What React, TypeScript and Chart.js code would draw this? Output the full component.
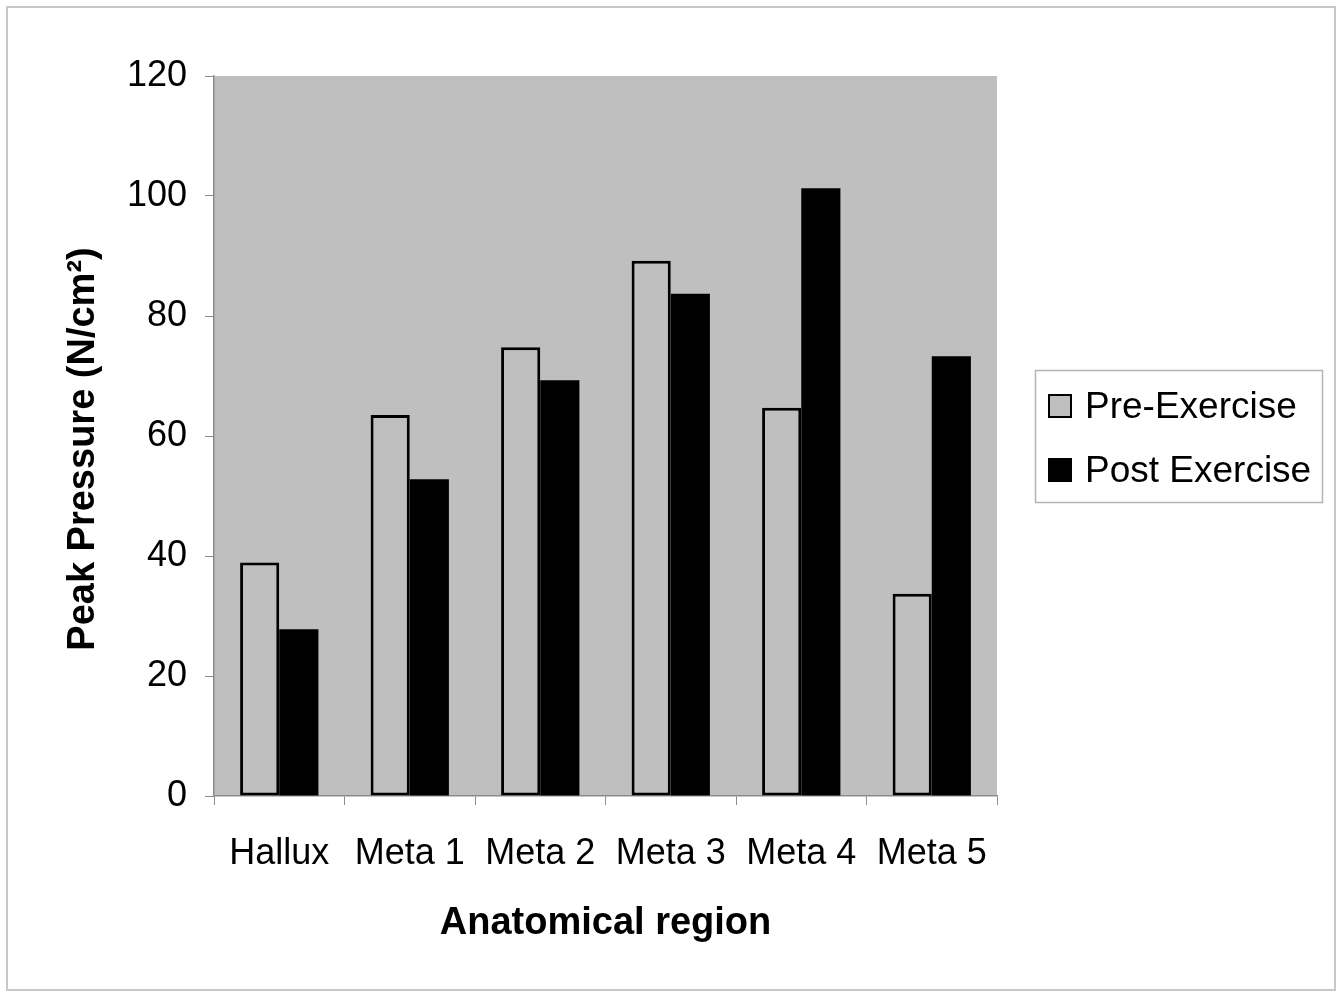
import React, { useEffect, useRef } from "react";
import { Chart, registerables } from "chart.js";

Chart.register(...registerables);

const categories = ["Hallux", "Meta 1", "Meta 2", "Meta 3", "Meta 4", "Meta 5"];
const preExercise = [38.9, 63.5, 74.8, 89.2, 64.7, 33.7];
const postExercise = [27.8, 52.8, 69.3, 83.7, 101.3, 73.3];
const seriesNames = ["Pre-Exercise", "Post Exercise"];
const yTitle = "Peak Pressure (N/cm²)";
const xTitle = "Anatomical region";

const FONT = "'Liberation Sans', Arial, sans-serif";
const PLOT_BG = "#c0bfc0";

const decorPlugin = {
  id: "decor",
  beforeDraw(chart: any) {
    const { ctx, chartArea } = chart;
    ctx.save();
    ctx.fillStyle = "#ffffff";
    ctx.fillRect(0, 0, chart.width, chart.height);
    ctx.strokeStyle = "#c8c8c8";
    ctx.lineWidth = 2;
    ctx.strokeRect(7, 7, 1328, 983);
    ctx.fillStyle = PLOT_BG;
    ctx.fillRect(chartArea.left, chartArea.top, chartArea.right - chartArea.left, chartArea.bottom - chartArea.top);
    ctx.restore();
  },
  afterDraw(chart: any) {
    const { ctx, chartArea } = chart;
    ctx.save();
    // axis titles
    ctx.fillStyle = "#000";
    ctx.font = `bold 38px ${FONT}`;
    ctx.textAlign = "center";
    ctx.textBaseline = "middle";
    ctx.fillText(xTitle, (chartArea.left + chartArea.right) / 2, 924);
    ctx.translate(84, 449);
    ctx.rotate(-Math.PI / 2);
    ctx.fillText(yTitle, 0, 0);
    ctx.restore();

    // legend
    ctx.save();
    ctx.strokeStyle = "#b4b4b4";
    ctx.lineWidth = 1.5;
    ctx.strokeRect(1035.5, 370.5, 287, 132);
    const rows = [406, 470];
    chart.data.datasets.forEach((ds: any, i: number) => {
      const y = rows[i];
      ctx.fillStyle = ds.backgroundColor;
      ctx.fillRect(1049, y - 11, 22, 22);
      ctx.strokeStyle = "#000";
      ctx.lineWidth = 2;
      ctx.strokeRect(1049, y - 11, 22, 22);
      ctx.fillStyle = "#000";
      ctx.font = `37px ${FONT}`;
      ctx.textAlign = "left";
      ctx.textBaseline = "middle";
      ctx.fillText(ds.label, 1085, y + 2);
    });
    ctx.restore();
  },
};

export default function App() {
  const ref = useRef<HTMLCanvasElement | null>(null);
  useEffect(() => {
    if (!ref.current) return;
    const chart = new Chart(ref.current, {
      type: "bar",
      data: {
        labels: categories,
        datasets: [
          {
            label: seriesNames[0],
            data: preExercise,
            backgroundColor: PLOT_BG,
            borderColor: "#000",
            borderWidth: 3,
            borderSkipped: false,
            categoryPercentage: 0.6,
            barPercentage: 1.0,
          },
          {
            label: seriesNames[1],
            data: postExercise,
            backgroundColor: "#000",
            borderColor: "#000",
            borderWidth: 0,
            categoryPercentage: 0.6,
            barPercentage: 1.0,
          },
        ],
      },
      options: {
        animation: false,
        responsive: true,
        maintainAspectRatio: false,
        devicePixelRatio: 1,
        layout: { padding: { left: 0, top: 76, right: 339, bottom: 0 } },
        plugins: {
          legend: { display: false },
          tooltip: { enabled: false },
          title: { display: false },
        },
        scales: {
          x: {
            grid: {
              drawOnChartArea: false,
              drawTicks: true,
              tickLength: 9,
              tickColor: "#8c8c8c",
              offset: true,
            },
            border: { color: "#8c8c8c", width: 1.5 },
            ticks: {
              color: "#000",
              font: { family: FONT, size: 36 },
              padding: 27,
              maxRotation: 0,
              autoSkip: false,
            },
            afterFit(scale: any) {
              scale.height = 197;
            },
          },
          y: {
            min: 0,
            max: 120,
            ticks: {
              stepSize: 20,
              color: "#000",
              font: { family: FONT, size: 36 },
              padding: 18,
            },
            grid: {
              drawOnChartArea: false,
              drawTicks: true,
              tickLength: 9,
              tickColor: "#8c8c8c",
            },
            border: { color: "#8c8c8c", width: 1.5 },
            afterFit(scale: any) {
              scale.width = 214;
            },
          },
        },
      },
      plugins: [decorPlugin],
    });
    return () => chart.destroy();
  }, []);
  return (
    <div style={{ position: "absolute", left: 0, top: 0, width: 1336, height: 993 }}>
      <canvas ref={ref} />
    </div>
  );
}
